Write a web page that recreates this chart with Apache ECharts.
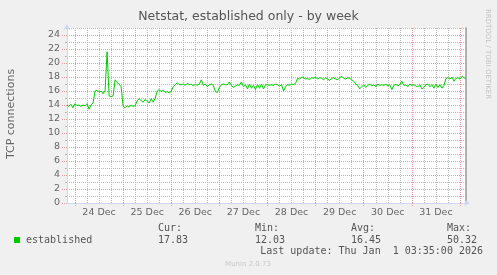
<!DOCTYPE html>
<html>
<head>
<meta charset="utf-8">
<script src="https://cdn.jsdelivr.net/npm/echarts@6/dist/echarts.min.js"></script>
<style>
html,body{margin:0;padding:0;background:#f0f0f0;}
#chart{width:497px;height:275px;}
</style>
</head>
<body>
<div id="chart"></div>
<script>
// ---- data (hourly averages, starting 23 Dec 20:00, ending 1 Jan 03:00) ----
var dayNames = ['23 Dec','24 Dec','25 Dec','26 Dec','27 Dec','28 Dec','29 Dec','30 Dec','31 Dec','1 Jan'];
var startHour = 20;
var established = [
  14.0, 13.8, 14.1, 13.6, 14.2, 13.9, 14.0, 13.8, 14.0, 13.9, 14.2, 13.4, 14.0, 14.3,
  16.0, 16.1, 15.8, 16.0, 15.6, 16.1, 21.6, 15.3, 15.2, 15.3, 17.6, 17.2, 17.0, 16.6,
  13.8, 13.6, 13.9, 13.7, 14.0, 13.8, 13.9, 14.6, 14.9, 14.6, 14.4, 14.8, 14.5, 14.3, 14.9, 14.4, 15.0,
  16.0, 16.2, 15.9, 16.1, 15.8, 15.9, 15.7, 16.0, 16.6, 16.9, 17.2, 16.9,
  16.9, 17.0, 16.8, 17.1, 16.9, 17.0, 16.7, 17.0, 16.8, 17.0, 17.6, 16.8, 17.0, 16.6, 16.9, 17.0, 16.8, 15.9, 15.8, 16.5, 16.9, 17.0, 16.9,
  16.9, 17.3, 16.8, 16.5, 16.7, 16.9, 16.8, 17.3, 16.6, 16.9, 16.3, 17.0, 16.4, 16.8, 16.2, 16.9, 16.4, 17.0, 16.3, 16.9,
  16.9, 16.8, 16.9, 16.8, 17.0, 16.9, 16.7, 16.9, 16.0, 16.6, 16.9, 16.8, 17.0, 16.9, 17.1, 17.8, 17.7, 18.0,
  17.9, 17.7, 17.8, 17.6, 17.9, 17.8, 18.0, 17.7, 17.9, 17.8, 17.6, 17.9, 17.7, 17.5, 17.8, 17.9, 17.7, 17.6, 17.9, 18.1, 17.8, 17.7, 17.9, 17.8, 17.6,
  17.4, 17.0, 16.8, 16.3, 16.6, 16.9, 16.5, 16.8, 17.0, 16.7, 16.9, 16.6, 17.0, 16.8, 16.9,
  16.8, 17.0, 16.7, 16.9, 16.2, 16.8, 17.0, 16.7, 16.9, 17.4, 16.8, 16.9, 16.6, 17.0, 16.8, 16.9, 16.7, 16.6, 16.9, 16.3, 16.5, 16.9, 17.0, 16.6, 16.9, 16.4, 17.0, 16.5, 16.9, 16.4, 16.8,
  17.8, 17.9, 17.7, 18.0, 17.4, 17.8, 17.9, 17.7, 18.1, 17.9, 17.8
];
var yMax = 25;
var legendName = 'established';
var stats = {cur: '17.83', min: '12.03', avg: '16.45', max: '50.32'};
var statHeads = ['Cur:', 'Min:', 'Avg:', 'Max:'];
var lastUpdate = 'Last update: Thu Jan  1 03:35:00 2026';

// ---- categories (one per hour) ----
var categories = [];
for (var i = 0; i < established.length; i++) {
  var h = (startHour + i) % 24;
  var d = Math.floor((startHour + i) / 24);
  categories.push(dayNames[d] + ' ' + (h < 10 ? '0' : '') + h + ':00');
}
function hourOf(idx) { return (startHour + idx) % 24; }

// ---- layout ----
var L = 67, R = 31, T = 28, B = 72, W = 497, H = 275;
var nSteps = established.length - 1;
var pxPerHour = (W - L - R) / nSteps;
var minorOffset = startHour % 6;          // hours from last 6h boundary to the first point
var majorOffset = startHour % 24;         // hours from last midnight to the first point
var unitPx = (H - T - B) / yMax;

var GRID = '#b9b9b9';
var MGRID = '#e79a9a';
var AXIS = '#CFD6F8';
var FONT = '#666666';
var FF = 'DejaVu Sans';
var MONO = '10px "DejaVu Sans Mono"';

var chart = echarts.init(document.getElementById('chart'), null, {renderer: 'canvas'});
chart.setOption({
  backgroundColor: '#f0f0f0',
  animation: false,
  grid: [
    {left: L, right: R, top: T, bottom: B, show: true, backgroundColor: '#ffffff', borderWidth: 0},
    {left: L - minorOffset * pxPerHour, right: R, top: T, bottom: B, show: false},
    {left: L - majorOffset * pxPerHour, right: R, top: T, bottom: B, show: false},
    {left: L, right: R, top: T, bottom: B + unitPx, show: false}
  ],
  xAxis: [
    { // data axis: labels at noon, ticks at midnight
      type: 'category', data: categories, boundaryGap: false, gridIndex: 0, z: 4,
      axisLine: {show: true, lineStyle: {color: AXIS, width: 1}, symbol: ['none', 'arrow'], symbolSize: [5, 6], symbolOffset: [0, 4]},
      axisTick: {show: true, length: 4, interval: function (idx) { return hourOf(idx) === 0; }, lineStyle: {color: MGRID, type: [1, 1]}},
      axisLabel: {
        show: true, interval: function (idx) { return hourOf(idx) === 12; },
        formatter: function (v) { return v.slice(0, v.length - 6); },
        color: FONT, fontFamily: FF, fontSize: 9.5, margin: 5
      },
      splitLine: {show: false}
    },
    { // 6-hour minor grid
      type: 'value', gridIndex: 1, min: 0, max: minorOffset + nSteps, interval: 6, z: 1,
      axisLine: {show: false}, axisTick: {show: false}, axisLabel: {show: false},
      splitLine: {show: true, showMinLine: false, showMaxLine: false, lineStyle: {color: GRID, width: 1, type: [1, 1]}}
    },
    { // daily major grid
      type: 'value', gridIndex: 2, min: 0, max: majorOffset + nSteps, interval: 24, z: 2,
      axisLine: {show: false}, axisTick: {show: false}, axisLabel: {show: false},
      splitLine: {show: true, showMinLine: false, showMaxLine: false, lineStyle: {color: MGRID, width: 1, type: [1, 1]}}
    },
    {type: 'value', gridIndex: 3, min: 0, max: 1, show: false}
  ],
  yAxis: [
    { // series axis + major grid + labels
      type: 'value', gridIndex: 0, min: 0, max: yMax, interval: 2, z: 3,
      axisLine: {show: true, lineStyle: {color: AXIS, width: 1}, symbol: ['none', 'arrow'], symbolSize: [5, 6], symbolOffset: [0, 4]},
      axisTick: {show: true, length: 5, lineStyle: {color: MGRID, type: [1, 1]}},
      axisLabel: {
        show: true, color: FONT, fontFamily: FF, fontSize: 9.5, margin: 7, showMaxLabel: false,
        formatter: function (v) { return v === yMax ? '' : String(v); }
      },
      splitLine: {show: true, showMinLine: false, showMaxLine: false, lineStyle: {color: MGRID, width: 1, type: [1, 1]}}
    },
    {type: 'value', gridIndex: 1, min: 0, max: 1, show: false},
    {type: 'value', gridIndex: 2, min: 0, max: 1, show: false},
    { // odd-valued minor grid
      type: 'value', gridIndex: 3, min: 1, max: yMax, interval: 2, z: 1,
      axisLine: {show: false}, axisLabel: {show: false},
      axisTick: {show: true, length: 2, lineStyle: {color: GRID}},
      splitLine: {show: true, showMinLine: true, showMaxLine: true, lineStyle: {color: GRID, width: 1, type: [1, 1]}}
    },
    { // right frame
      type: 'value', gridIndex: 0, min: 0, max: yMax, position: 'right', z: 3,
      axisLine: {show: true, lineStyle: {color: '#9a9a9a', width: 1.5}},
      axisTick: {show: false}, axisLabel: {show: false}, splitLine: {show: false}
    }
  ],
  series: [{
    type: 'line', name: legendName, data: established, xAxisIndex: 0, yAxisIndex: 0,
    showSymbol: false, symbol: 'none', z: 10,
    lineStyle: {color: '#00cc00', width: 1}
  }],
  graphic: [
    {type: 'text', left: 'center', top: 10, style: {text: 'Netstat, established only - by week', fill: '#555', font: '12.5px "DejaVu Sans"'}},
    {type: 'text', x: 11, y: 114, rotation: Math.PI / 2, style: {text: 'TCP connections', fill: FONT, font: '11px "DejaVu Sans"', align: 'center', verticalAlign: 'middle'}},
    {type: 'text', x: 488, y: 54, rotation: -Math.PI / 2, style: {text: 'RRDTOOL / TOBI OETIKER', fill: '#c4c4c4', font: '7px "DejaVu Sans"', align: 'center', verticalAlign: 'middle'}},
    {type: 'rect', shape: {x: 14, y: 237, width: 6, height: 6}, style: {fill: '#00cc00'}},
    {type: 'text', x: 26, y: 240, style: {text: legendName, fill: '#555', font: MONO, verticalAlign: 'middle'}},
    {type: 'text', x: 158, y: 228, style: {text: statHeads[0], fill: '#555', font: MONO, verticalAlign: 'middle'}},
    {type: 'text', x: 255, y: 228, style: {text: statHeads[1], fill: '#555', font: MONO, verticalAlign: 'middle'}},
    {type: 'text', x: 351, y: 228, style: {text: statHeads[2], fill: '#555', font: MONO, verticalAlign: 'middle'}},
    {type: 'text', x: 447, y: 228, style: {text: statHeads[3], fill: '#555', font: MONO, verticalAlign: 'middle'}},
    {type: 'text', x: 158, y: 240, style: {text: stats.cur, fill: '#555', font: MONO, verticalAlign: 'middle'}},
    {type: 'text', x: 255, y: 240, style: {text: stats.min, fill: '#555', font: MONO, verticalAlign: 'middle'}},
    {type: 'text', x: 351, y: 240, style: {text: stats.avg, fill: '#555', font: MONO, verticalAlign: 'middle'}},
    {type: 'text', x: 447, y: 240, style: {text: stats.max, fill: '#555', font: MONO, verticalAlign: 'middle'}},
    {type: 'text', x: 483, y: 251, style: {text: lastUpdate, fill: '#555', font: MONO, align: 'right', verticalAlign: 'middle'}},
    {type: 'text', x: 248, y: 264, style: {text: 'Munin 2.0.73', fill: '#c8c8c8', font: '7px "DejaVu Sans"', align: 'center', verticalAlign: 'middle'}}
  ]
});
</script>
</body>
</html>
